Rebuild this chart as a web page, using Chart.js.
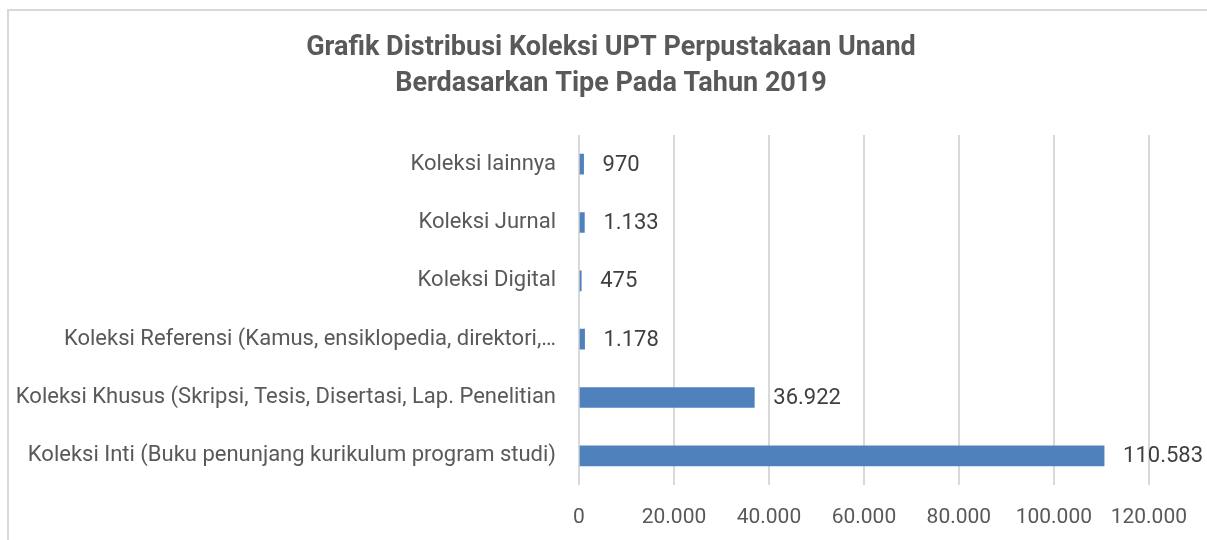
<!DOCTYPE html>
<html>
<head>
<meta charset="utf-8">
<script src="https://cdn.jsdelivr.net/npm/chart.js@4"></script>
<style>
  html, body { margin: 0; padding: 0; background: #fff; overflow: hidden; }
  #frame { position: absolute; left: 7px; top: 9px; width: 1400px; height: 700px;
           border-left: 2px solid #d9d9d9; border-top: 2px solid #d9d9d9; }
  #wrap { position: absolute; left: 0; top: 0; width: 1207px; height: 540px; }
</style>
</head>
<body>
<div id="frame"></div>
<div id="wrap"><canvas id="chart" width="1207" height="540"></canvas></div>
<script>
const categories = [
  "Koleksi lainnya",
  "Koleksi Jurnal",
  "Koleksi Digital",
  "Koleksi Referensi (Kamus, ensiklopedia, direktori,…",
  "Koleksi Khusus (Skripsi, Tesis, Disertasi, Lap. Penelitian",
  "Koleksi Inti (Buku penunjang kurikulum program studi)"
];
const jumlah = [970, 1133, 475, 1178, 36922, 110583];
const titleLines = ["Grafik Distribusi Koleksi UPT Perpustakaan Unand", "Berdasarkan Tipe Pada Tahun 2019"];

const FONT = "'Roboto', sans-serif";

// 12345 -> "12.345"
function fmt(v) {
  return String(v).replace(/\B(?=(\d{3})+(?!\d))/g, ".");
}

// value labels to the right of each bar
const valueLabels = {
  id: 'valueLabels',
  afterLayout(chart) {
    // center the title on the outer frame, not the padded area
    if (chart.titleBlock) {
      chart.titleBlock.left = 15;
      chart.titleBlock.right = 1207;
    }
  },
  afterDatasetsDraw(chart) {
    const ctx = chart.ctx;
    const meta = chart.getDatasetMeta(0);
    ctx.save();
    ctx.font = "22px " + FONT;
    ctx.fillStyle = "#404040";
    ctx.textBaseline = "middle";
    meta.data.forEach((bar, i) => {
      ctx.fillText(fmt(jumlah[i]), bar.x + 19, bar.y + 1);
    });
    ctx.restore();
  }
};

new Chart(document.getElementById("chart"), {
  type: "bar",
  data: {
    labels: categories,
    datasets: [{
      data: jumlah,
      backgroundColor: "#4f81bd",
      barThickness: 20
    }]
  },
  options: {
    indexAxis: "y",
    responsive: false,
    animation: false,
    layout: { padding: { left: 0, right: 58, top: 0, bottom: 0 } },
    plugins: {
      legend: { display: false },
      tooltip: { enabled: false },
      title: {
        display: true,
        text: titleLines,
        color: "#595959",
        font: { family: FONT, size: 27, weight: "bold", lineHeight: 1.333 },
        padding: { top: 30, bottom: 33 }
      }
    },
    scales: {
      x: {
        min: 0,
        max: 120000,
        ticks: {
          stepSize: 20000,
          color: "#595959",
          padding: 20,
          font: { family: FONT, size: 21 },
          callback: v => fmt(v)
        },
        grid: { color: "#d9d9d9", lineWidth: 2, drawTicks: false },
        border: { display: false },
        afterFit(scale) { scale.height = 55; }
      },
      y: {
        ticks: {
          color: "#595959",
          padding: 23,
          font: { family: FONT, size: 22 }
        },
        grid: { display: false, drawTicks: false },
        border: { display: false },
        afterFit(scale) { scale.width = 579; }
      }
    }
  },
  plugins: [valueLabels]
});
</script>
</body>
</html>
